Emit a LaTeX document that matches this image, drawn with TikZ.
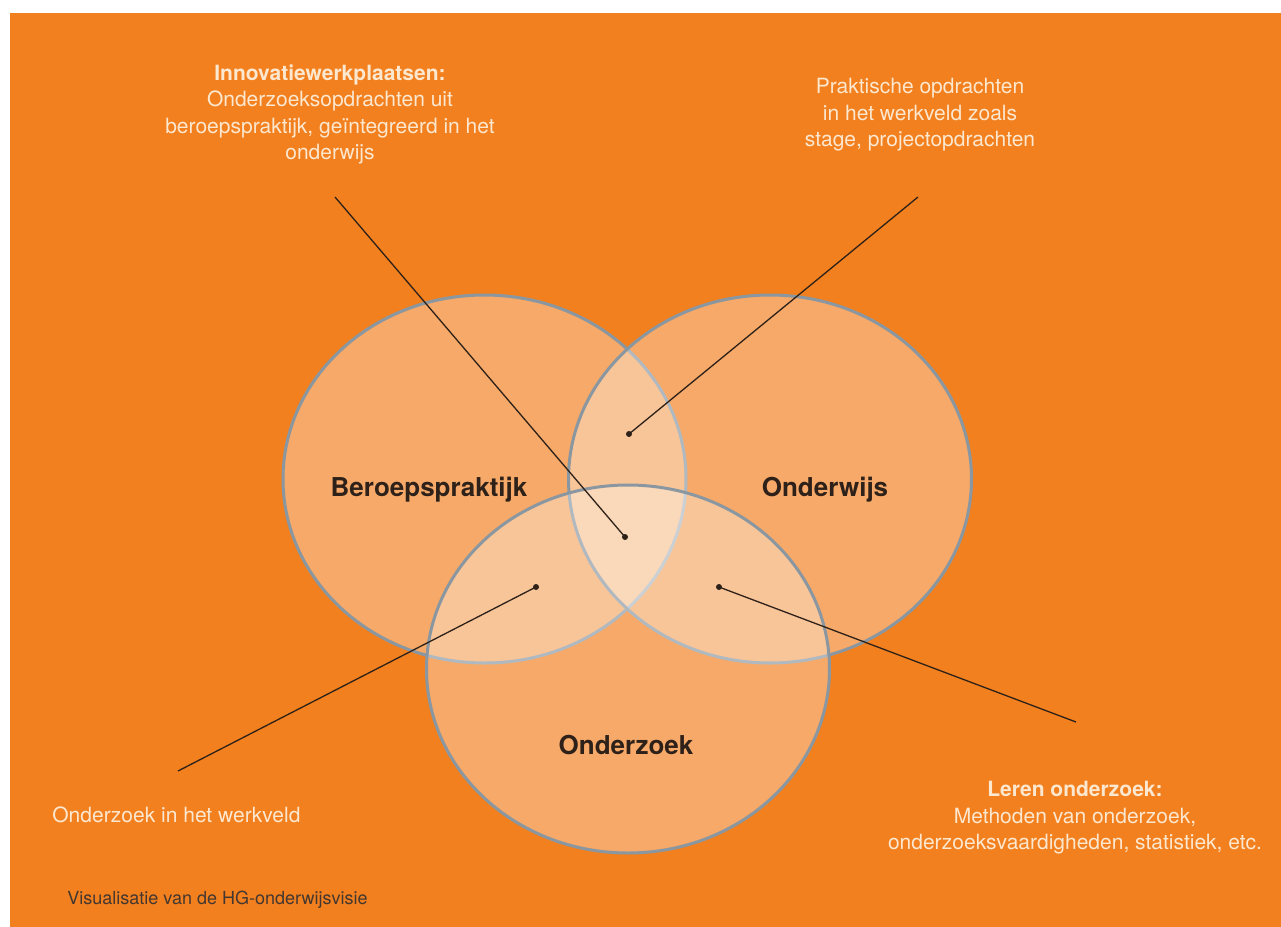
\documentclass[tikz,border=0pt]{standalone}
\usepackage{fontspec}
\setmainfont{TeX Gyre Heros}
\usepackage{xcolor}
\usepackage{tikz}
\usetikzlibrary{
    shapes.geometric,
    positioning,
    calc
}
\definecolor{hgorange}{HTML}{F2801F}
\definecolor{hgrim}{HTML}{8A97A1}
\definecolor{hgcream}{HTML}{FCE7CF}
\definecolor{hgdark}{HTML}{2E2119}
\tikzset{
    % Venn set
    vennset/.style={
        ellipse,
        draw=hgrim,
        line width=1.5pt,
        fill=white,
        fill opacity=0.33,
        minimum width=201.5pt,
        minimum height=184pt,
        inner sep=0pt
    },
    % Set label
    setlabel/.style={
        anchor=base,
        text=hgdark,
        font=\fontsize{13pt}{15pt}\selectfont\bfseries,
        inner sep=0pt
    },
    % Annotation text
    notetext/.style={
        text=hgcream,
        font=\fontsize{10.5pt}{13.25pt}\selectfont,
        align=center,
        inner sep=0pt
    },
    % Leader line
    leaderline/.style={
        draw=hgdark,
        line width=0.65pt
    },
    % Leader dot
    leaderdot/.style={
        circle,
        fill=hgdark,
        minimum size=3pt,
        inner sep=0pt
    }
}

\begin{document}
\begin{tikzpicture}[x=0.5pt, y=-0.5pt]

    % Background
    \useasboundingbox (0,0) rectangle (1281,927);
    \fill[white] (0,0) rectangle (1281,927);
    \fill[hgorange] (10,13) rectangle (1281,927);

    % Sets
    \node[vennset] (praktijk) at (484.5,479) {};
    \node[vennset] (onderwijs) at (770,479) {};
    \node[vennset] (onderzoek) at (628,669) {};

    \node[setlabel] (praktijk-lbl) at (429,496) {Beroepspraktijk};
    \node[setlabel] (onderwijs-lbl) at (825,496) {Onderwijs};
    \node[setlabel] (onderzoek-lbl) at (626,754) {Onderzoek};

    % Annotations
    \node[notetext, anchor=north] (innovatie) at (330,64)
        {\textbf{Innovatiewerkplaatsen:}\\Onderzoeksopdrachten uit\\beroepspraktijk, geïntegreerd in het\\onderwijs};
    \node[notetext, anchor=north] (praktisch) at (920,78)
        {Praktische opdrachten\\in het werkveld zoals\\stage, projectopdrachten};
    \node[notetext, anchor=north] (leren) at (1075,781)
        {\textbf{Leren onderzoek:}\\Methoden van onderzoek,\\onderzoeksvaardigheden, statistiek, etc.};
    \node[notetext, anchor=north west] (werkveld) at (52,806) {Onderzoek in het werkveld};
    \node[anchor=north west, inner sep=0pt, text=hgdark!90,
        font=\fontsize{9pt}{10pt}\selectfont] (caption) at (67,891)
        {Visualisatie van de HG-onderwijsvisie};

    % Leaders
    \coordinate (innovatie-end) at (335,197);
    \coordinate (praktisch-end) at (918,197);
    \coordinate (werkveld-end) at (178,771);
    \coordinate (leren-end) at (1076,722);
    \node[leaderdot] (innovatie-dot) at (625,537) {};
    \node[leaderdot] (praktisch-dot) at (629,434) {};
    \node[leaderdot] (werkveld-dot) at (536,587) {};
    \node[leaderdot] (leren-dot) at (719,587) {};
    \draw[leaderline] (innovatie-end) -- (innovatie-dot.center);
    \draw[leaderline] (praktisch-end) -- (praktisch-dot.center);
    \draw[leaderline] (werkveld-end) -- (werkveld-dot.center);
    \draw[leaderline] (leren-end) -- (leren-dot.center);

\end{tikzpicture}
\end{document}
